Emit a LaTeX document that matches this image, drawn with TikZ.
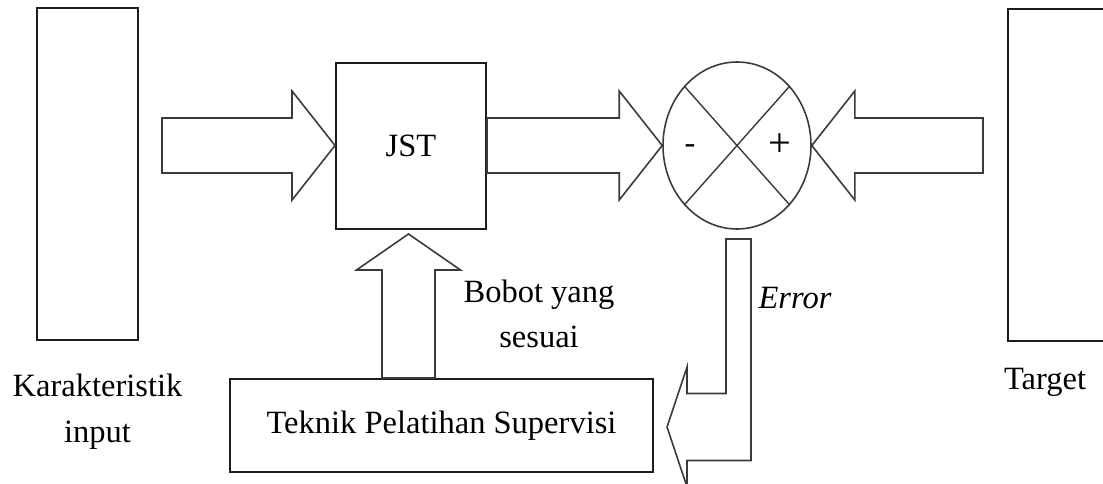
\documentclass[tikz,border=0pt]{standalone}
\usepackage{fontspec}
\setmainfont{Liberation Serif}
\usetikzlibrary{calc,shapes.geometric}
\definecolor{ink}{HTML}{1C1C1C}
\definecolor{rim}{HTML}{3A3A3A}
\tikzset{
  txt/.style={font=\fontsize{18.5}{26}\selectfont,align=center,inner sep=0pt},
  panel/.style={draw=ink,line width=1.1pt,fill=white,txt},
  fat/.style={draw=rim,line width=.9pt,fill=white,line join=miter},
  % horizontal block arrow from start to tip, same body for all three
  fatarrow/.style={fat,to path={
      let \p1=(\tikztostart),\p2=(\tikztotarget),\p3=($(\p2)!.86cm!(\p1)$) in
      (\x1,\y1+.55cm) -- (\x3,\y1+.55cm) -- (\x3,\y1+1.09cm) -- (\x2,\y1)
      -- (\x3,\y1-1.09cm) -- (\x3,\y1-.55cm) -- (\x1,\y1-.55cm) -- cycle}}
}
\begin{document}
\begin{tikzpicture}[x=1cm,y=1cm]
  \useasboundingbox (0,0) rectangle (22.06,9.66);
  \clip (0,0) rectangle (22.06,9.66);

  % Blocks
  \node[panel,minimum width=2.02cm,minimum height=6.64cm] (input) at (1.75,6.18) {};
  \node[panel,minimum width=3cm,minimum height=3.32cm] (jst) at (8.22,6.74) {JST};
  \node[panel,minimum width=2.5cm,minimum height=6.64cm,anchor=north west] (target) at (20.14,9.50) {};
  \node[panel,minimum width=8.46cm,minimum height=1.86cm] (teknik) at (8.83,1.15) {Teknik Pelatihan Supervisi};

  % Summing junction
  \node[ellipse,draw=rim,line width=.9pt,minimum width=2.96cm,minimum height=3.34cm,inner sep=0pt] (sum) at (14.74,6.75) {};
  \draw[rim,line width=.8pt] (sum.north west) -- (sum.south east) (sum.north east) -- (sum.south west);
  \node[txt] (minus) at ($(sum.center)+(-.94,-.07)$) {-};
  \node[txt,font=\fontsize{23}{26}\selectfont] (plus) at ($(sum.center)+(.86,0)$) {+};

  % Forward path
  \coordinate (intail) at (3.24,6.75);
  \coordinate (intip) at (jst.west |- intail);
  \coordinate (outtail) at (jst.east |- intail);
  \coordinate (outtip) at (sum.west);
  \coordinate (tgttail) at (19.66,6.75);
  \coordinate (tgttip) at (sum.east);
  \draw[fatarrow] (intail) to (intip);
  \draw[fatarrow] (outtail) to (outtip);
  \draw[fatarrow] (tgttail) to (tgttip);

  % Weight update back into the network
  \coordinate (wtip) at (8.17,4.98);
  \draw[fat] let \p1=(wtip),\p2=(teknik.north) in
    (\x1-.53cm,\y2) -- (\x1-.53cm,\y1-.72cm) -- (\x1-1.04cm,\y1-.72cm) -- (\p1)
    -- (\x1+1.04cm,\y1-.72cm) -- (\x1+.53cm,\y1-.72cm) -- (\x1+.53cm,\y2) -- cycle;

  % Error fed to the training block
  \coordinate (etop) at (14.77,4.88);
  \coordinate (etip) at (13.34,1.12);
  \draw[fat] let \p1=(etop),\p2=(etip) in
    (\x1-.25cm,\y1) -- (\x1+.25cm,\y1) -- (\x1+.25cm,\y2-.67cm) -- (\x2+.4cm,\y2-.67cm)
    -- (\x2+.4cm,\y2-1.2cm) -- (\p2) -- (\x2+.4cm,\y2+1.2cm) -- (\x2+.4cm,\y2+.67cm)
    -- (\x1-.25cm,\y2+.67cm) -- cycle;

  % Labels
  \node[txt] (inputlbl) at (1.95,1.42) {Karakteristik\\input};
  \node[txt] (targetlbl) at (20.9,2.02) {Target};
  \node[txt] (weightlbl) at (10.78,3.38) {Bobot yang\\sesuai};
  \node[txt,font=\fontsize{18.5}{26}\selectfont\itshape] (errorlbl) at (15.9,3.70) {Error};
\end{tikzpicture}
\end{document}
